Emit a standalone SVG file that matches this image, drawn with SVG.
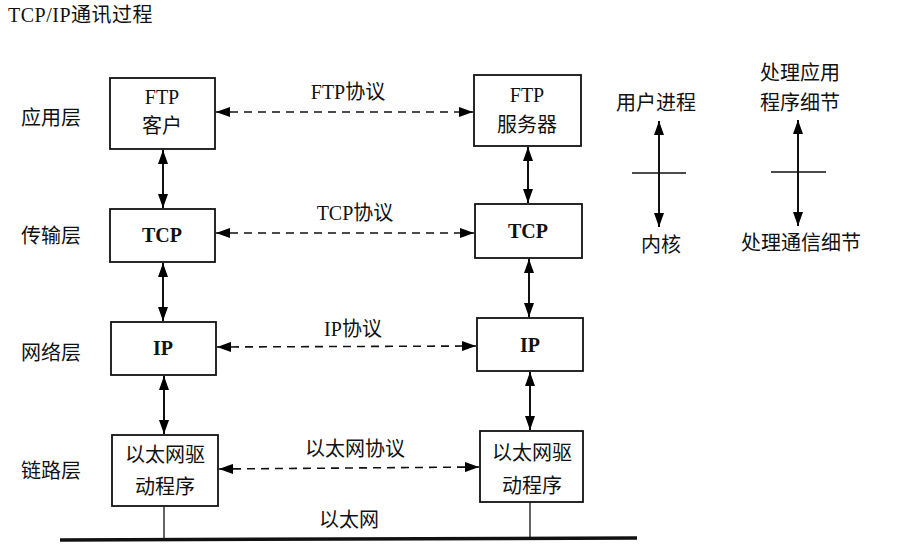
<svg xmlns="http://www.w3.org/2000/svg" width="903" height="559" viewBox="0 0 903 559">
<defs>
<marker id="ah" viewBox="0 0 14 10" refX="14" refY="5" markerWidth="14" markerHeight="10" markerUnits="userSpaceOnUse" orient="auto-start-reverse">
<path d="M0,0 L14,5 L0,10 Z" fill="#000"/>
</marker>
</defs>
<style>
text{font-family:"Liberation Serif","Noto Sans CJK SC",serif;fill:#111;font-size:20px;}
.box{fill:#fff;stroke:#111;stroke-width:1.8;}
.bold{font-weight:bold;}
.dash{stroke:#111;stroke-width:1.6;stroke-dasharray:8 6;fill:none;}
.solid{stroke:#111;stroke-width:2;fill:none;}
.thin{stroke:#111;stroke-width:1.3;fill:none;}
</style>
<rect width="903" height="559" fill="#fff"/>
<text x="8" y="22" letter-spacing="0.5">TCP/IP通讯过程</text>
<g id="layers">
<text x="21" y="125">应用层</text>
<text x="21" y="243">传输层</text>
<text x="21" y="360">网络层</text>
<text x="21" y="478">链路层</text>
</g>
<g id="ftp-client"><rect class="box" x="110" y="78" width="105" height="71"/><text x="162" y="104" text-anchor="middle">FTP</text><text x="162" y="133" text-anchor="middle">客户</text></g>
<g id="tcp-left"><rect class="box" x="110" y="209" width="105" height="53"/><text class="bold" x="162" y="242" text-anchor="middle">TCP</text></g>
<g id="ip-left"><rect class="box" x="111" y="322" width="105" height="53"/><text class="bold" x="163" y="355" text-anchor="middle">IP</text></g>
<g id="eth-left"><rect class="box" x="112" y="435" width="106" height="71"/><text x="165" y="462" text-anchor="middle">以太网驱</text><text x="165" y="494" text-anchor="middle">动程序</text></g>
<g id="ftp-server"><rect class="box" x="474" y="75" width="107" height="71"/><text x="527" y="102" text-anchor="middle">FTP</text><text x="527" y="132" text-anchor="middle">服务器</text></g>
<g id="tcp-right"><rect class="box" x="475" y="204" width="107" height="54"/><text class="bold" x="528" y="238" text-anchor="middle">TCP</text></g>
<g id="ip-right"><rect class="box" x="477" y="318" width="106" height="53"/><text class="bold" x="530" y="352" text-anchor="middle">IP</text></g>
<g id="eth-right"><rect class="box" x="480" y="431" width="103" height="71"/><text x="532" y="460" text-anchor="middle">以太网驱</text><text x="532" y="493" text-anchor="middle">动程序</text></g>
<g id="connectors">
<line class="solid" x1="163" y1="150" x2="163" y2="208" marker-start="url(#ah)" marker-end="url(#ah)"/>
<line class="solid" x1="163" y1="263" x2="163" y2="321" marker-start="url(#ah)" marker-end="url(#ah)"/>
<line class="solid" x1="164" y1="376" x2="164" y2="434" marker-start="url(#ah)" marker-end="url(#ah)"/>
<line class="solid" x1="528" y1="147" x2="528" y2="203" marker-start="url(#ah)" marker-end="url(#ah)"/>
<line class="solid" x1="529" y1="259" x2="529" y2="317" marker-start="url(#ah)" marker-end="url(#ah)"/>
<line class="solid" x1="530" y1="372" x2="530" y2="430" marker-start="url(#ah)" marker-end="url(#ah)"/>
<line class="dash" x1="216" y1="112" x2="473" y2="112" marker-start="url(#ah)" marker-end="url(#ah)"/>
<line class="dash" x1="216" y1="233" x2="474" y2="233" marker-start="url(#ah)" marker-end="url(#ah)"/>
<line class="dash" x1="217" y1="347" x2="476" y2="346" marker-start="url(#ah)" marker-end="url(#ah)"/>
<line class="dash" x1="219" y1="469" x2="479" y2="467" marker-start="url(#ah)" marker-end="url(#ah)"/>
<line class="thin" x1="164" y1="506" x2="164" y2="540"/>
<line class="thin" x1="530" y1="502" x2="530" y2="539"/>
<line x1="60" y1="540" x2="637" y2="538" stroke="#111" stroke-width="3.5"/>
</g>
<g id="protocol-labels">
<text x="348" y="99" text-anchor="middle">FTP协议</text>
<text x="355" y="220" text-anchor="middle">TCP协议</text>
<text x="353" y="336" text-anchor="middle">IP协议</text>
<text x="355" y="456" text-anchor="middle">以太网协议</text>
<text x="349" y="527" text-anchor="middle">以太网</text>
</g>
<g id="legend-user">
<text x="656" y="110" text-anchor="middle">用户进程</text>
<line class="solid" x1="659" y1="121" x2="659" y2="227" marker-start="url(#ah)" marker-end="url(#ah)"/>
<line class="thin" x1="632" y1="173" x2="686" y2="173"/>
<text x="661" y="252" text-anchor="middle">内核</text>
</g>
<g id="legend-app">
<text x="800" y="80" text-anchor="middle">处理应用</text>
<text x="800" y="110" text-anchor="middle">程序细节</text>
<line class="solid" x1="798" y1="120" x2="798" y2="226" marker-start="url(#ah)" marker-end="url(#ah)"/>
<line class="thin" x1="771" y1="172" x2="826" y2="172"/>
<text x="801" y="250" text-anchor="middle">处理通信细节</text>
</g>
</svg>
